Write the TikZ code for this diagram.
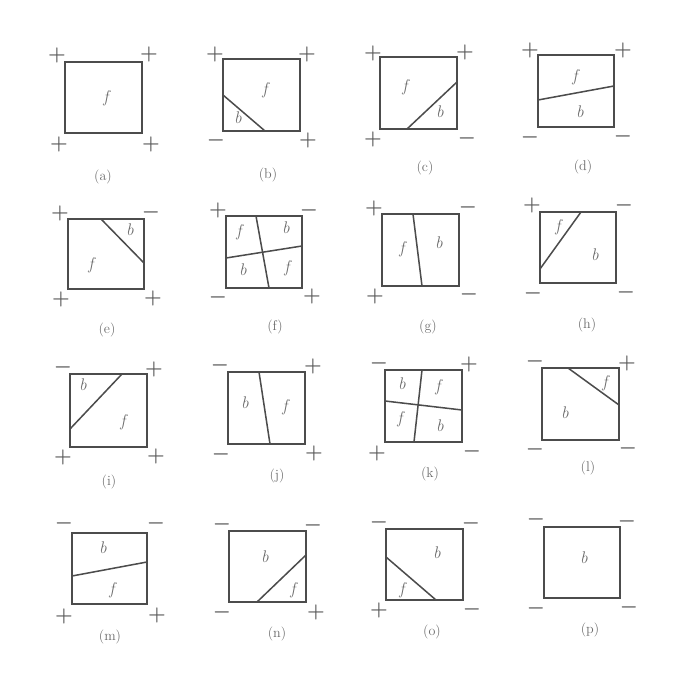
\documentclass[tikz,border=0pt]{standalone}
\usepackage{amsmath,amssymb}
\usepackage{tikz}
\definecolor{framegray}{gray}{0.30}
\definecolor{signgray}{gray}{0.35}
\definecolor{lettergray}{gray}{0.42}

\begin{document}
\begin{tikzpicture}[
  x=0.3mm, y=-0.3mm,
  frame/.style={draw=framegray, line width=1.4pt},
  split/.style={draw=framegray, line width=1.3pt},
  sign/.style={font=\LARGE\boldmath, text=signgray, inner sep=0pt},
  region/.style={font=\Large\itshape, text=lettergray, inner sep=0pt},
  tag/.style={font=\large, text=lettergray, inner sep=0pt}
]
\useasboundingbox (0,0) rectangle (694,680);

% row 1
\draw[frame] (65,62) rectangle (142,133);
\node[region] (a-f) at (106,98) {f};
\node[sign] (a-tl) at (57,55) {$+$};
\node[sign] (a-tr) at (149,54) {$+$};
\node[sign] (a-bl) at (59,144) {$+$};
\node[sign] (a-br) at (151,144) {$+$};
\node[tag] (a-tag) at (103,177) {(a)};

\draw[frame] (223,59) rectangle (300,131);
\draw[split] (223,95) -- (265,131);
\node[region] (b-b) at (238,118) {b};
\node[region] (b-f) at (265,90) {f};
\node[sign] (b-tl) at (215,54) {$+$};
\node[sign] (b-tr) at (307,54) {$+$};
\node[sign] (b-bl) at (216,140) {$-$};
\node[sign] (b-br) at (308,140) {$+$};
\node[tag] (b-tag) at (268,175) {(b)};

\draw[frame] (380,57) rectangle (457,129);
\draw[split] (407,129) -- (457,82);
\node[region] (c-f) at (405,87) {f};
\node[region] (c-b) at (440,112) {b};
\node[sign] (c-tl) at (373,53) {$+$};
\node[sign] (c-tr) at (465,52) {$+$};
\node[sign] (c-bl) at (373,139) {$+$};
\node[sign] (c-br) at (467,138) {$-$};
\node[tag] (c-tag) at (425,168) {(c)};

\draw[frame] (538,55) rectangle (614,127);
\draw[split] (538,100) -- (614,86);
\node[region] (d-f) at (575,77) {f};
\node[region] (d-b) at (580,112) {b};
\node[sign] (d-tl) at (530,50) {$+$};
\node[sign] (d-tr) at (623,50) {$+$};
\node[sign] (d-bl) at (530,137) {$-$};
\node[sign] (d-br) at (623,136) {$-$};
\node[tag] (d-tag) at (583,167) {(d)};

% row 2
\draw[frame] (68,219) rectangle (144,289);
\draw[split] (101,219) -- (144,263);
\node[region] (e-b) at (130,230) {b};
\node[region] (e-f) at (91,265) {f};
\node[sign] (e-tl) at (60,213) {$+$};
\node[sign] (e-tr) at (151,212) {$-$};
\node[sign] (e-bl) at (61,299) {$+$};
\node[sign] (e-br) at (153,298) {$+$};
\node[tag] (e-tag) at (107,330) {(e)};

\draw[frame] (226,216) rectangle (302,288);
\draw[split] (256,216) -- (269,288);
\draw[split] (226,258) -- (302,246);
\node[region] (f-f1) at (239,232) {f};
\node[region] (f-b1) at (286,228) {b};
\node[region] (f-b2) at (243,270) {b};
\node[region] (f-f2) at (287,268) {f};
\node[sign] (f-tl) at (218,210) {$+$};
\node[sign] (f-tr) at (309,210) {$-$};
\node[sign] (f-bl) at (218,297) {$-$};
\node[sign] (f-br) at (312,296) {$+$};
\node[tag] (f-tag) at (275,327) {(f)};

\draw[frame] (382,214) rectangle (459,286);
\draw[split] (413,214) -- (422,286);
\node[region] (g-f) at (402,249) {f};
\node[region] (g-b) at (439,243) {b};
\node[sign] (g-tl) at (374,208) {$+$};
\node[sign] (g-tr) at (468,207) {$-$};
\node[sign] (g-bl) at (375,296) {$+$};
\node[sign] (g-br) at (469,294) {$-$};
\node[tag] (g-tag) at (428,327) {(g)};

\draw[frame] (540,212) rectangle (616,283);
\draw[split] (581,212) -- (540,269);
\node[region] (h-f) at (558,227) {f};
\node[region] (h-b) at (595,255) {b};
\node[sign] (h-tl) at (532,205) {$+$};
\node[sign] (h-tr) at (624,205) {$-$};
\node[sign] (h-bl) at (533,293) {$-$};
\node[sign] (h-br) at (626,292) {$-$};
\node[tag] (h-tag) at (587,325) {(h)};

% row 3
\draw[frame] (70,374) rectangle (147,447);
\draw[split] (122,374) -- (70,429);
\node[region] (i-b) at (83,385) {b};
\node[region] (i-f) at (123,422) {f};
\node[sign] (i-tl) at (63,367) {$-$};
\node[sign] (i-tr) at (154,369) {$+$};
\node[sign] (i-bl) at (63,457) {$+$};
\node[sign] (i-br) at (156,456) {$+$};
\node[tag] (i-tag) at (109,482) {(i)};

\draw[frame] (228,372) rectangle (305,444);
\draw[split] (259,372) -- (270,444);
\node[region] (j-b) at (245,403) {b};
\node[region] (j-f) at (285,407) {f};
\node[sign] (j-tl) at (220,365) {$-$};
\node[sign] (j-tr) at (313,366) {$+$};
\node[sign] (j-bl) at (221,454) {$-$};
\node[sign] (j-br) at (314,453) {$+$};
\node[tag] (j-tag) at (277,476) {(j)};

\draw[frame] (385,370) rectangle (462,442);
\draw[split] (422,370) -- (414,442);
\draw[split] (385,401) -- (462,410);
\node[region] (k-b1) at (402,384) {b};
\node[region] (k-f1) at (438,387) {f};
\node[region] (k-f2) at (400,419) {f};
\node[region] (k-b2) at (440,426) {b};
\node[sign] (k-tl) at (379,363) {$-$};
\node[sign] (k-tr) at (469,364) {$+$};
\node[sign] (k-bl) at (377,453) {$+$};
\node[sign] (k-br) at (472,451) {$-$};
\node[tag] (k-tag) at (430,474) {(k)};

\draw[frame] (542,368) rectangle (619,440);
\draw[split] (568,368) -- (619,405);
\node[region] (l-f) at (605,383) {f};
\node[region] (l-b) at (565,413) {b};
\node[sign] (l-tl) at (535,361) {$-$};
\node[sign] (l-tr) at (627,363) {$+$};
\node[sign] (l-bl) at (535,449) {$-$};
\node[sign] (l-br) at (628,448) {$-$};
\node[tag] (l-tag) at (588,468) {(l)};

% row 4
\draw[frame] (72,533) rectangle (147,604);
\draw[split] (72,576) -- (147,562);
\node[region] (m-b) at (103,548) {b};
\node[region] (m-f) at (112,590) {f};
\node[sign] (m-tl) at (64,523) {$-$};
\node[sign] (m-tr) at (156,523) {$-$};
\node[sign] (m-bl) at (64,616) {$+$};
\node[sign] (m-br) at (157,615) {$+$};
\node[tag] (m-tag) at (110,637) {(m)};

\draw[frame] (229,531) rectangle (306,602);
\draw[split] (257,602) -- (306,555);
\node[region] (n-b) at (265,557) {b};
\node[region] (n-f) at (293,590) {f};
\node[sign] (n-tl) at (222,524) {$-$};
\node[sign] (n-tr) at (313,525) {$-$};
\node[sign] (n-bl) at (222,612) {$-$};
\node[sign] (n-br) at (316,612) {$+$};
\node[tag] (n-tag) at (277,634) {(n)};

\draw[frame] (386,529) rectangle (463,600);
\draw[split] (386,557) -- (436,600);
\node[region] (o-b) at (437,553) {b};
\node[region] (o-f) at (402,590) {f};
\node[sign] (o-tl) at (379,522) {$-$};
\node[sign] (o-tr) at (471,523) {$-$};
\node[sign] (o-bl) at (379,610) {$+$};
\node[sign] (o-br) at (472,609) {$-$};
\node[tag] (o-tag) at (432,632) {(o)};

\draw[frame] (544,527) rectangle (620,598);
\node[region] (p-b) at (584,558) {b};
\node[sign] (p-tl) at (536,519) {$-$};
\node[sign] (p-tr) at (627,521) {$-$};
\node[sign] (p-bl) at (536,608) {$-$};
\node[sign] (p-br) at (629,607) {$-$};
\node[tag] (p-tag) at (590,630) {(p)};
\end{tikzpicture}
\end{document}
